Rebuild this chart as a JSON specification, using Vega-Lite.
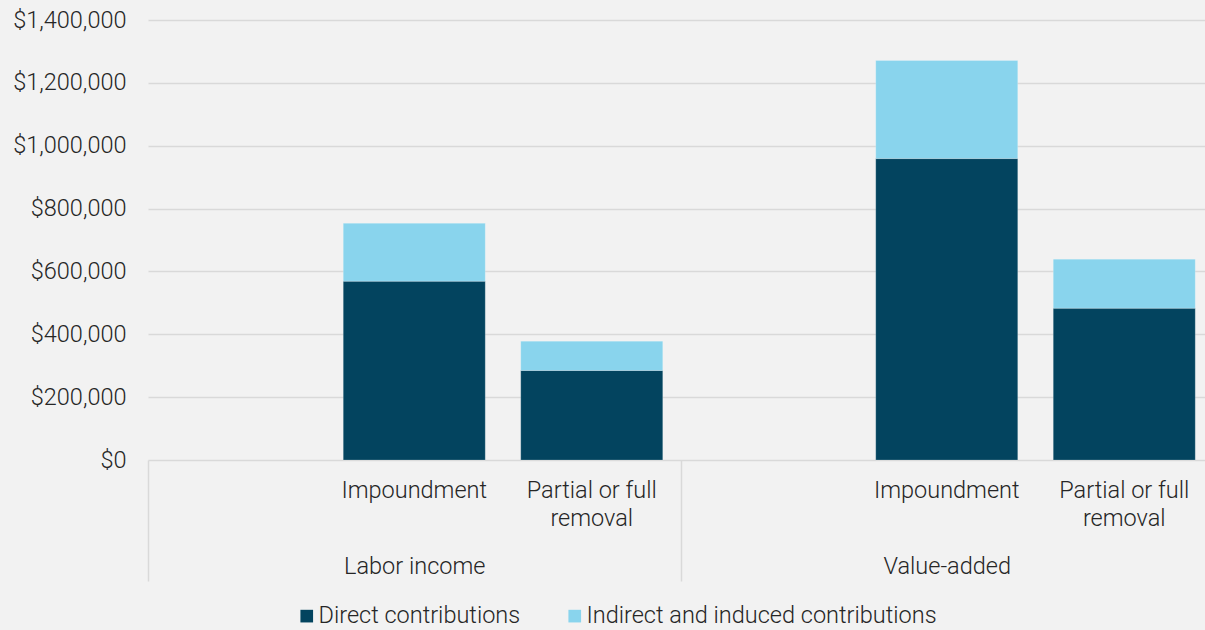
{
  "$schema": "https://vega.github.io/schema/vega-lite/v6.json",
  "width": 1065,
  "height": 440,
  "autosize": {"type": "none"},
  "padding": {"left": 148, "top": 20, "right": 0, "bottom": 170},
  "background": "#f2f2f2",
  "config": {
    "view": {"stroke": null},
    "font": "Roboto",
    "axis": {"labelFont": "Roboto", "labelFontWeight": 300, "labelColor": "#262626", "labelFontSize": 23.5},
    "legend": {"labelFont": "Roboto", "labelFontWeight": 300, "labelColor": "#262626", "labelFontSize": 23.5}
  },
  "data": {
    "values": [
      {"group": "Labor income", "slot": "LI1", "series": "Direct contributions", "value": 569000},
      {"group": "Labor income", "slot": "LI1", "series": "Indirect and induced contributions", "value": 184000},
      {"group": "Labor income", "slot": "LI2", "series": "Direct contributions", "value": 285000},
      {"group": "Labor income", "slot": "LI2", "series": "Indirect and induced contributions", "value": 93000},
      {"group": "Value-added", "slot": "VA1", "series": "Direct contributions", "value": 959000},
      {"group": "Value-added", "slot": "VA1", "series": "Indirect and induced contributions", "value": 312000},
      {"group": "Value-added", "slot": "VA2", "series": "Direct contributions", "value": 483000},
      {"group": "Value-added", "slot": "VA2", "series": "Indirect and induced contributions", "value": 156000}
    ]
  },
  "layer": [
    {
      "mark": {"type": "bar", "stroke": "#ffffff", "strokeOpacity": 0.2, "strokeWidth": 1},
      "encoding": {
        "x": {
          "field": "slot", "type": "nominal", "title": null,
          "scale": {"domain": ["LI0", "LI1", "LI2", "VA0", "VA1", "VA2"], "paddingInner": 0.2, "paddingOuter": 0.1},
          "axis": {
            "orient": "bottom", "domain": false, "ticks": false, "grid": false,
            "labelAngle": 0, "labelPadding": 18, "labelLineHeight": 28, "labelLimit": 0,
            "labelExpr": "(datum.value == 'LI1' || datum.value == 'VA1') ? 'Impoundment' : ((datum.value == 'LI2' || datum.value == 'VA2') ? ['Partial or full', 'removal'] : '')"
          }
        },
        "y": {
          "field": "value", "type": "quantitative", "stack": "zero", "title": null,
          "scale": {"domain": [0, 1400000], "nice": false},
          "axis": {
            "values": [0, 200000, 400000, 600000, 800000, 1000000, 1200000, 1400000],
            "format": "$,.0f", "domain": false, "ticks": false,
            "grid": true, "gridColor": "#d9d9d9", "gridWidth": 1.5,
            "labelPadding": 22, "labelLimit": 0
          }
        },
        "color": {
          "field": "series", "type": "nominal", "title": null,
          "scale": {"domain": ["Direct contributions", "Indirect and induced contributions"], "range": ["#03445f", "#89d4ed"]},
          "legend": {
            "orient": "none", "direction": "horizontal", "legendX": 147, "legendY": 584,
            "symbolType": "square", "symbolSize": 160, "symbolStrokeWidth": 0, "symbolOpacity": 1,
            "labelOffset": 0, "columnPadding": 42, "padding": 0, "labelLimit": 0
          }
        },
        "order": {"field": "series", "sort": "ascending"}
      }
    },
    {
      "mark": {"type": "bar", "opacity": 0},
      "encoding": {
        "x": {
          "field": "group", "type": "nominal", "title": null,
          "scale": {"domain": ["Labor income", "Value-added"], "paddingInner": 0, "paddingOuter": 0},
          "axis": {
            "orient": "bottom", "domain": false, "ticks": true, "tickBand": "extent",
            "tickSize": 121, "tickColor": "#d9d9d9", "tickWidth": 1.5, "grid": false,
            "labelAngle": 0, "labelBaseline": "middle", "labelPadding": -15, "labelLimit": 0
          }
        }
      }
    }
  ],
  "resolve": {"scale": {"x": "independent"}, "axis": {"x": "independent"}}
}
